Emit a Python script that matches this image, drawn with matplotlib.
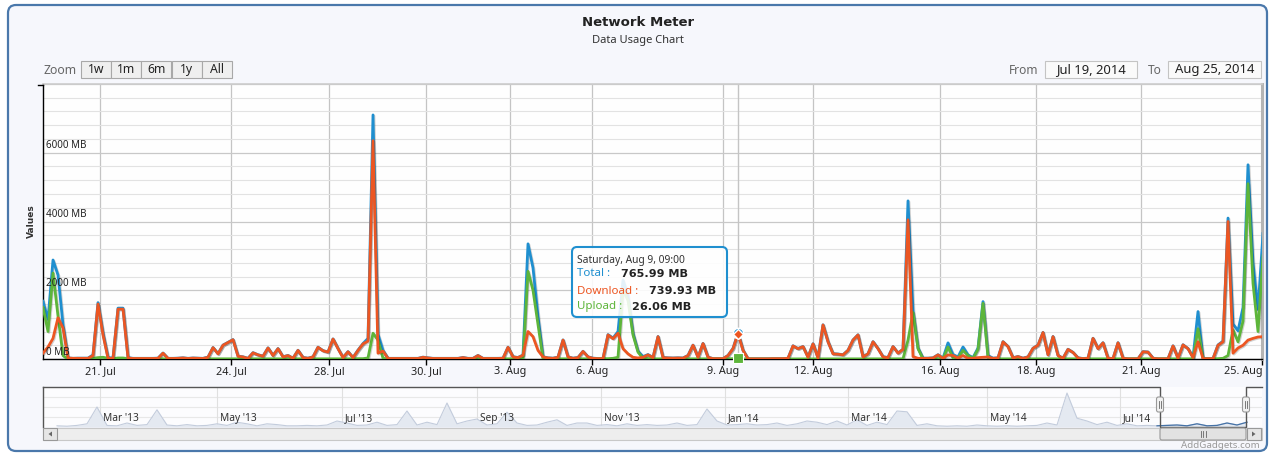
import numpy as np
import matplotlib
matplotlib.use("Agg")
import matplotlib.pyplot as plt
import matplotlib.patheffects as pe
from matplotlib.patches import FancyBboxPatch, Rectangle, Polygon
from matplotlib.lines import Line2D

W, H = 1273, 457
plt.rcParams['font.family'] = ['Noto Sans', 'DejaVu Sans']
BOLD = ['DejaVu Sans']

# ---------- data (MB per sample, ordinal axis: one entry per sample) ----------
download = [
    170, 350, 600, 1200, 900, 30, 20, 20, 20, 20,          # 0
    100, 1600, 700, 20, 20, 1450, 1450, 30, 15, 15,        # 10
    15, 15, 15, 20, 170, 15, 15, 20, 30, 15,               # 20
    25, 20, 15, 50, 330, 150, 400, 480, 560, 80,           # 30
    60, 15, 180, 120, 80, 320, 100, 300, 60, 100,          # 40
    20, 250, 40, 20, 60, 340, 240, 200, 580, 300,          # 50
    40, 210, 40, 250, 440, 520, 6350, 170, 230, 15,        # 60
    15, 15, 15, 15, 15, 15, 50, 30, 15, 15,                # 70
    15, 15, 15, 15, 40, 15, 15, 100, 15, 15,               # 80
    15, 15, 20, 340, 60, 40, 110, 800, 650, 250,           # 90
    60, 30, 20, 50, 550, 60, 20, 40, 220, 60,              # 100
    20, 10, 10, 700, 590, 750, 300, 150, 50, 30,           # 110
    50, 120, 40, 650, 40, 30, 25, 30, 25, 100,             # 120
    400, 50, 450, 50, 10, 10, 10, 100, 300, 739.93,        # 130
    250, 5, 5, 5, 5, 5, 10, 10, 10, 20,                    # 140
    380, 300, 360, 50, 440, 30, 990, 500, 150, 140,        # 150
    120, 250, 550, 700, 60, 150, 500, 300, 60, 40,         # 160
    360, 170, 280, 4050, 70, 20, 20, 20, 30, 120,          # 170
    20, 120, 100, 30, 100, 20, 20, 40, 50, 60,             # 180
    20, 30, 500, 360, 30, 70, 20, 60, 310, 400,            # 190
    770, 120, 650, 100, 20, 280, 190, 30, 10, 20,          # 200
    600, 300, 470, 20, 10, 470, 20, 5, 5, 5,               # 210
    210, 200, 20, 5, 5, 5, 380, 20, 410, 300,              # 220
    40, 500, 10, 10, 10, 400, 500, 4000, 170, 320,         # 230
    400, 550, 600, 640, 650,                               # 240
]
upload = [
    1500, 800, 2500, 1250, 100, 0, 0, 5, 5, 5,
    20, 40, 50, 20, 10, 30, 30, 10, 5, 5,
    5, 5, 5, 5, 5, 5, 5, 5, 5, 5,
    5, 5, 5, 5, 5, 5, 5, 5, 5, 5,
    5, 5, 5, 5, 5, 5, 5, 5, 5, 5,
    5, 5, 5, 5, 5, 5, 5, 5, 5, 5,
    5, 5, 5, 10, 10, 30, 750, 550, 20, 5,
    5, 5, 5, 5, 5, 5, 5, 5, 5, 5,
    5, 5, 5, 5, 5, 5, 5, 5, 5, 5,
    5, 5, 5, 5, 5, 5, 5, 2550, 2000, 1000,
    5, 5, 5, 5, 5, 5, 5, 5, 5, 5,
    5, 5, 10, 10, 20, 50, 2000, 1700, 700, 200,
    20, 10, 5, 5, 5, 5, 5, 5, 5, 5,
    5, 5, 5, 5, 2, 2, 2, 5, 10, 26.06,
    5, 2, 2, 2, 2, 2, 2, 2, 2, 2,
    5, 5, 5, 5, 5, 5, 5, 5, 5, 5,
    5, 5, 5, 5, 5, 5, 5, 5, 5, 5,
    5, 5, 5, 550, 1350, 300, 5, 5, 5, 5,
    5, 350, 30, 30, 250, 100, 20, 280, 1620, 40,
    5, 5, 5, 5, 5, 5, 5, 5, 5, 5,
    5, 5, 5, 5, 5, 5, 5, 5, 5, 5,
    5, 5, 5, 5, 5, 5, 5, 2, 2, 2,
    5, 5, 5, 2, 2, 2, 5, 5, 5, 5,
    5, 880, 10, 5, 5, 10, 20, 100, 850, 500,
    1100, 5100, 2200, 800, 3000,
]
total = [
    1680, 1150, 2880, 2440, 1000, 30, 20, 25, 25, 25,
    120, 1640, 750, 40, 30, 1480, 1480, 40, 20, 20,
    20, 20, 20, 25, 175, 20, 20, 25, 35, 20,
    30, 25, 20, 55, 335, 155, 405, 485, 565, 85,
    65, 20, 185, 125, 85, 325, 105, 305, 65, 105,
    25, 255, 45, 25, 65, 345, 245, 205, 585, 305,
    45, 215, 45, 260, 450, 600, 7100, 720, 250, 20,
    20, 20, 20, 20, 20, 20, 55, 35, 20, 20,
    20, 20, 20, 20, 45, 20, 20, 105, 20, 20,
    20, 20, 25, 345, 65, 45, 115, 3350, 2650, 1250,
    65, 35, 25, 55, 555, 65, 25, 45, 225, 65,
    25, 15, 20, 710, 610, 800, 2300, 1850, 750, 230,
    70, 130, 45, 655, 45, 35, 30, 35, 30, 105,
    405, 55, 455, 55, 12, 12, 12, 105, 310, 765.99,
    255, 7, 7, 7, 7, 7, 12, 12, 12, 22,
    385, 305, 365, 55, 445, 35, 995, 505, 155, 145,
    125, 255, 555, 705, 65, 155, 505, 305, 65, 45,
    365, 175, 285, 4600, 1420, 320, 25, 25, 35, 125,
    25, 470, 130, 60, 350, 120, 40, 320, 1670, 100,
    25, 35, 505, 365, 35, 75, 25, 65, 315, 405,
    775, 125, 655, 105, 25, 285, 195, 35, 15, 25,
    605, 305, 475, 25, 15, 475, 25, 7, 7, 7,
    215, 205, 25, 7, 7, 7, 385, 25, 415, 305,
    45, 1380, 20, 15, 15, 410, 520, 4100, 1020, 820,
    1500, 5650, 2800, 1440, 3650,
]
series_names = ["Total", "Download", "Upload"]
series_colors = ["#1f8fcf", "#ec5622", "#5db53a"]

tick_pos = [11.4, 37.6, 57.2, 76.6, 93.4, 109.8, 136.0, 154.0, 179.4, 198.6, 219.6, 243.8]
tick_labels = ["21. Jul", "24. Jul", "28. Jul", "30. Jul", "3. Aug", "6. Aug",
               "9. Aug", "12. Aug", "16. Aug", "18. Aug", "21. Aug", "25. Aug"]
y_ticks = [0, 2000, 4000, 6000]
hover_idx = 139
hover_date = "Saturday, Aug 9, 09:00"

# navigator (whole history, relative height)
nav_usage = [
    3, 2, 4, 8, 50, 4, 3, 10, 4, 6,
    43, 5, 3, 6, 3, 4, 8, 4, 12, 8,
    3, 8, 6, 3, 3, 4, 3, 5, 15, 10,
    4, 5, 12, 4, 6, 40, 5, 12, 6, 60,
    8, 15, 20, 5, 8, 37, 10, 4, 5, 12,
    18, 4, 10, 10, 4, 6, 3, 8, 4, 6,
    4, 5, 10, 4, 6, 45, 15, 5, 6, 8,
    5, 6, 10, 4, 8, 15, 12, 6, 15, 5,
    18, 4, 12, 6, 40, 38, 4, 8, 3, 2,
    3, 2, 5, 3, 2, 3, 2, 3, 4, 10,
    5, 85, 22, 15, 6, 12, 4, 8, 3, 4,
    3, 4, 5, 3, 8, 3, 4, 10, 5, 12,
]
nav_tick_pos = [4.3, 16.0, 28.5, 42.0, 54.4, 66.8, 79.1, 93.0, 106.3]
nav_labels = ["Mar '13", "May '13", "Jul '13", "Sep '13", "Nov '13",
              "Jan '14", "Mar '14", "May '14", "Jul '14"]
nav_sel = (110.3, 118.9)

zoom_buttons = ["1w", "1m", "6m", "1y", "All"]
date_from, date_to = "Jul 19, 2014", "Aug 25, 2014"

# ---------- figure ----------
fig = plt.figure(figsize=(W / 100, H / 100), dpi=100)
fig.patch.set_facecolor("white")

def fbox(x0, y0, x1, y1):
    return [x0 / W, 1 - y1 / H, (x1 - x0) / W, (y1 - y0) / H]

bg = fig.add_axes([0, 0, 1, 1], zorder=-5)
bg.set_xlim(0, W); bg.set_ylim(H, 0); bg.axis("off")
bg.add_patch(FancyBboxPatch((8, 5), 1259, 446, boxstyle="round,pad=0,rounding_size=8",
                            fc="#f6f7fc", ec="#4a78ab", lw=1.6))

# main plot
ax = fig.add_axes(fbox(43, 84, 1262, 359))
ax.set_facecolor("#fefefe")
x = np.arange(len(total))
shadow = [pe.SimpleLineShadow(offset=(0.7, -0.7), shadow_color="black", alpha=0.18), pe.Normal()]
for vals, c, z in [(total, series_colors[0], 3), (upload, series_colors[2], 4), (download, series_colors[1], 5)]:
    ax.plot(x, vals, color=c, lw=2.0, zorder=z, solid_joinstyle="round", path_effects=shadow)
ax.set_xlim(0, 243.8)
ax.set_ylim(0, 8000)
ax.set_yticks(np.arange(0, 8001, 2000))
ax.set_yticks(np.arange(0, 8001, 400), minor=True)
ax.grid(which="minor", axis="y", color="#e2e2e2", lw=0.8, zorder=0)
ax.grid(which="major", axis="y", color="#c8c8c8", lw=0.9, zorder=0)
ax.grid(which="major", axis="x", color="#c4c4c4", lw=0.9, zorder=0)
ax.tick_params(axis="y", which="both", length=0, labelleft=False)
ax.set_xticks(tick_pos, tick_labels)
ax.tick_params(axis="x", length=4, width=1, color="black", pad=1, labelsize=7.8, labelcolor="#222222")
ax.get_xticklabels()[-1].set_horizontalalignment("right")
ax.set_axisbelow(True)
for s in ["left", "bottom"]:
    ax.spines[s].set_color("black"); ax.spines[s].set_linewidth(1)
ax.spines["top"].set_color("#cccccc"); ax.spines["top"].set_linewidth(1.2)
ax.spines["right"].set_color("#b4b4b4"); ax.spines["right"].set_linewidth(2.2)
for v in y_ticks:
    ax.text(0.0025, v + 40, f"{v} MB", transform=ax.get_yaxis_transform(), fontsize=7.1,
            color="#222222", va="bottom", ha="left", zorder=6)

# hover crosshair and markers
ax.axvline(hover_idx, color="#c4c4c4", lw=1, zorder=1)
ax.plot(hover_idx, total[hover_idx], "o", ms=7.5, color=series_colors[0], mec="white", mew=1, zorder=7)
ax.plot(hover_idx, download[hover_idx], "D", ms=5.5, color=series_colors[1], mec="white", mew=1, zorder=8)
ax.plot(hover_idx, upload[hover_idx], "s", ms=6.5, color=series_colors[2], mec="white", mew=0.8,
        zorder=8, clip_on=False)

# navigator
nav = fig.add_axes(fbox(43, 387, 1262, 427))
nav.set_facecolor("#fcfcfe")
k = np.arange(len(nav_usage))
nav.fill_between(k, nav_usage, color="#e4e9f1", lw=0)
nav.plot(k, nav_usage, color="#c3ccdc", lw=0.8)
sel = (k >= np.floor(nav_sel[0])) & (k <= np.ceil(nav_sel[1]))
nav.plot(k[sel], np.array(nav_usage)[sel], color="#4572a7", lw=0.9)
nav.set_xlim(-1.4, 120.5)
nav.set_ylim(0, 100)
for gy in [25, 50, 75]:
    nav.axhline(gy, color="#e8e8e8", lw=0.8, zorder=0)
for p, lab in zip(nav_tick_pos, nav_labels):
    nav.axvline(p, color="#e0e0e0", lw=0.8, zorder=0)
    nav.text(p + 0.3, 22, lab, fontsize=7.3, color="#333333", va="center", ha="left")
nav.set_xticks([]); nav.set_yticks([])
for s in nav.spines.values():
    s.set_visible(False)
# outline around selection
nav.plot([-1.4, nav_sel[0], nav_sel[0], nav_sel[1], nav_sel[1], 120.5],
         [100, 100, 0, 0, 100, 100], color="#555555", lw=1, clip_on=False)
nav.plot([-1.4, -1.4], [0, 100], color="#555555", lw=1, clip_on=False)

# overlay (pixel coordinates)
ov = fig.add_axes([0, 0, 1, 1], zorder=10)
ov.set_xlim(0, W); ov.set_ylim(H, 0); ov.axis("off")
ov.patch.set_alpha(0)

ov.text(638, 22, "Network Meter", ha="center", va="center", fontsize=9.5, weight="bold",
        family=BOLD, color="#222222")
ov.text(638, 40, "Data Usage Chart", ha="center", va="center", fontsize=8, color="#333333")
ov.text(31, 221, "Values", ha="center", va="center", rotation=90, fontsize=6.5, weight="bold",
        family=BOLD, color="#333333")
ov.add_line(Line2D([38, 43], [84.5, 84.5], color="black", lw=1))

# range selector buttons
ov.text(60, 70, "Zoom", ha="center", va="center", fontsize=8.8, color="#666666")
bx = 81
for lab in zoom_buttons:
    ov.add_patch(Rectangle((bx, 61), 30, 17, fc="#efefef", ec="#a8a8a8", lw=0.8))
    ov.text(bx + 15, 69.5, lab, ha="center", va="center", fontsize=8.8, color="#222222")
    bx += 30.2
ov.text(1024, 70, "From", ha="center", va="center", fontsize=8.6, color="#666666")
ov.add_patch(Rectangle((1045, 61), 92, 17, fc="#fafafa", ec="#c4c4c4", lw=0.8))
ov.text(1091, 69.5, date_from, ha="center", va="center", fontsize=9.4, color="#222222")
ov.text(1155, 70, "To", ha="center", va="center", fontsize=8.6, color="#666666")
ov.add_patch(Rectangle((1168, 61), 93, 17, fc="#fafafa", ec="#c4c4c4", lw=0.8))
ov.text(1214.5, 69.5, date_to, ha="center", va="center", fontsize=9.4, color="#222222")

# navigator handles + scrollbar
to_px = lambda kk: ov.transData.inverted().transform(nav.transData.transform((kk, 0)))[0]
hx0, hx1 = to_px(nav_sel[0]), to_px(nav_sel[1])
for hx in (hx0, hx1):
    ov.add_patch(FancyBboxPatch((hx - 3.5, 397), 7, 15, boxstyle="round,pad=0,rounding_size=2",
                                fc="#f2f2f2", ec="#999999", lw=0.8))
    ov.add_line(Line2D([hx - 1, hx - 1], [401, 408], color="#666666", lw=0.6))
    ov.add_line(Line2D([hx + 1, hx + 1], [401, 408], color="#666666", lw=0.6))
ov.add_patch(Rectangle((43, 428), 1219, 12, fc="#eeeeee", ec="#c8c8c8", lw=0.8))
ov.add_patch(Rectangle((43, 428), 14, 12, fc="#e6e6e6", ec="#999999", lw=0.8))
ov.add_patch(Polygon([[52, 431.5], [52, 436.5], [48.5, 434]], closed=True, fc="#666666", ec="none"))
ov.add_patch(Rectangle((1247, 428), 14, 12, fc="#e6e6e6", ec="#999999", lw=0.8))
ov.add_patch(Polygon([[1252, 431.5], [1252, 436.5], [1255.5, 434]], closed=True, fc="#666666", ec="none"))
ov.add_patch(FancyBboxPatch((hx0, 428), hx1 - hx0, 12, boxstyle="round,pad=0,rounding_size=2",
                            fc="#e2e2e2", ec="#999999", lw=0.8))
cx = (hx0 + hx1) / 2
for dx in (-2.5, 0, 2.5):
    ov.add_line(Line2D([cx + dx, cx + dx], [431, 437], color="#666666", lw=0.6))
ov.text(1260, 446, "AddGadgets.com", ha="right", va="center", fontsize=7, color="#999999")

# tooltip
ov.add_patch(FancyBboxPatch((572, 247), 155, 70, boxstyle="round,pad=0,rounding_size=5",
                            fc=(1, 1, 1, 0.88), ec=series_colors[0], lw=1.5))
ov.text(577, 261, hover_date, fontsize=7.4, color="#333333", va="center", ha="left")
rows = [(total, 274, 621), (download, 291, 649), (upload, 307, 632)]
for (vals, ty, vx), name, c in zip(rows, series_names, series_colors):
    ov.text(577, ty, f"{name} :", fontsize=8.3, color=c, va="center", ha="left")
    ov.text(vx, ty, f"{vals[hover_idx]:.2f} MB", fontsize=8.1, weight="bold", family=BOLD,
            color="#222222", va="center", ha="left")

fig.savefig("out.png", dpi=100)
